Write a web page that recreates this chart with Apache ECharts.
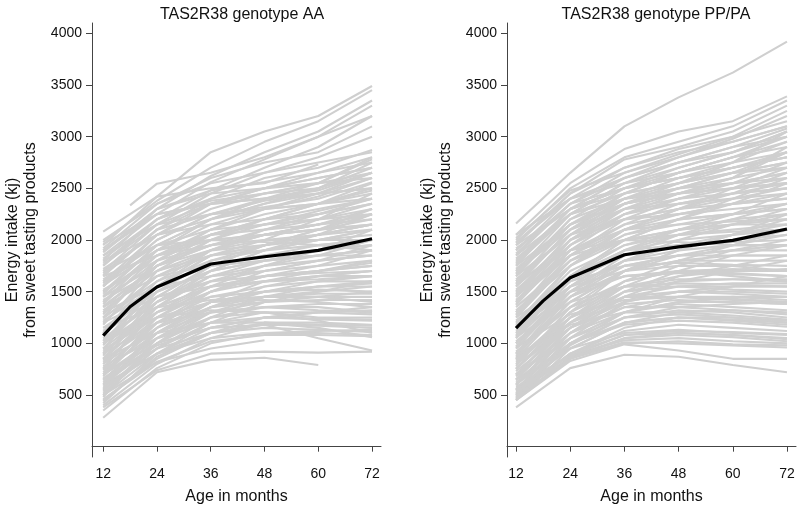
<!DOCTYPE html>
<html><head><meta charset="utf-8">
<script src="https://cdn.jsdelivr.net/npm/echarts@6/dist/echarts.min.js"></script>
<style>html,body{margin:0;padding:0;background:#fff}#c{width:807px;height:510px}</style>
</head><body><div id="c"></div>
<script>
// ---- data ----
const AGES = [12, 24, 36, 48, 60, 72];
const MEAN_AGES = [12, 18, 24, 36, 48, 60, 72];
const MEAN_AA = [1074, 1354, 1545, 1768, 1838, 1899, 2012];
const MEAN_PP = [1146, 1411, 1634, 1857, 1934, 1997, 2107];
const X_TICKS = [12, 24, 36, 48, 60, 72];
const Y_TICKS = [500, 1000, 1500, 2000, 2500, 3000, 3500, 4000];
const TITLES = ["TAS2R38 genotype AA", "TAS2R38 genotype PP/PA"];
const Y_NAME = "Energy intake (kj)\nfrom sweet tasting products";
const X_NAME = "Age in months";

const LATE_AGES_AA = [18, 24, 36, 48, 60, 72];
const LATE_AA = [2335, 2545, 2650, 2800, 3000, 3200];

const LINES_AA = [
  [2080, 2420, 2850, 3050, 3200, 3490],
  [1980, 2380, 2700, 2950, 3150, 3450],
  [1900, 2300, 2620, 2850, 3050, 3350],
  [1850, 2250, 2560, 2780, 3000, 3300],
  [1780, 2200, 2480, 2700, 2900, 3200],
  [2000, 2350, 2600, 2750, 2850, 3100],
  [1700, 2150, 2450, 2650, 2800, 3000],
  [1950, 2420, 2500, 2550, 2730, null],
  [1650, 2100, 2400, 2600, 2700, 2870],
  [1800, 2300, 2480, 2560, 2650, 2800],
  [1600, 2050, 2300, 2450, 2550, 2780],
  [1750, 2200, 2380, 2450, 2500, 2750],
  [1500, 1950, 2200, 2350, 2500, 2700],
  [1900, 2250, 2350, 2400, 2480, 2650],
  [1450, 1900, 2150, 2300, 2420, 2600],
  [1680, 2100, 2250, 2320, 2400, 2560],
  [1550, 2000, 2250, 2380, 2450, 2500],
  [1400, 1800, 2050, 2200, 2350, 2480],
  [1850, 2150, 2250, 2300, 2350, 2450],
  [1300, 1750, 2000, 2150, 2280, 2400],
  [1350, 1750, 1950, 2100, 2200, 2350],
  [1500, 1850, 2000, 2050, 2150, 2300],
  [1200, 1650, 1900, 2050, 2150, 2250],
  [1600, 1900, 2000, 2050, 2100, 2200],
  [1100, 1550, 1850, 1950, 2050, 2150],
  [1250, 1600, 1800, 1900, 2000, 2100],
  [1450, 1750, 1900, 1950, 2000, 2050],
  [1000, 1450, 1750, 1850, 1950, 2000],
  [1150, 1500, 1700, 1800, 1900, 1950],
  [1700, 1950, 2000, 1980, 1950, 1900],
  [900, 1350, 1650, 1800, 1850, 1900],
  [1050, 1400, 1600, 1700, 1800, 1850],
  [1300, 1550, 1650, 1700, 1750, 1800],
  [850, 1300, 1550, 1650, 1700, 1750],
  [950, 1350, 1550, 1600, 1650, 1700],
  [1200, 1450, 1550, 1600, 1620, 1650],
  [750, 1200, 1450, 1550, 1600, 1600],
  [1000, 1300, 1450, 1500, 1550, 1550],
  [650, 1100, 1400, 1500, 1520, 1500],
  [1150, 1350, 1420, 1450, 1450, 1450],
  [800, 1150, 1350, 1400, 1420, 1420],
  [600, 1000, 1250, 1350, 1380, 1380],
  [900, 1200, 1300, 1350, 1320, 1300],
  [550, 950, 1200, 1300, 1300, 1280],
  [700, 1050, 1250, 1300, 1250, 1250],
  [500, 900, 1150, 1250, 1230, 1220],
  [850, 1100, 1200, 1200, 1180, 1170],
  [450, 850, 1100, 1180, 1170, 1150],
  [650, 950, 1100, 1150, 1130, 1110],
  [400, 800, 1050, 1100, 1100, 1080],
  [1050, 1250, 1320, 1300, 1220, 1100],
  [600, 900, 1050, 1200, 1150, 1060],
  [380, 740, 900, 920, 910, 920],
  [280, 720, 840, 860, 790, null],
  [500, 820, 950, 1030, null, null],
  [700, 1000, 1150, 1180, 1050, 930],
  [600, 1100, 1400, 1600, 1700, 1800],
  [500, 1000, 1350, 1550, 1650, 1700],
  [800, 1300, 1600, 1750, 1850, 2000],
  [700, 1250, 1550, 1750, 1900, 2100],
  [950, 1500, 1800, 1950, 2100, 2300],
  [1100, 1700, 2000, 2200, 2350, 2550],
  [1250, 1800, 2100, 2300, 2450, 2650],
  [1400, 1900, 2200, 2400, 2550, 2800],
  [1550, 2050, 2350, 2500, 2650, 2750],
  [1020, 1550, 1850, 2000, 2200, 2450],
  [850, 1400, 1700, 1900, 2000, 2100],
  [1800, 2050, 2150, 2200, 2250, 2350],
  [1650, 1850, 1950, 2000, 2000, 2000],
  [1350, 1650, 1750, 1800, 1850, 1850],
  [420, 900, 1200, 1400, 1500, 1600],
  [480, 1050, 1350, 1500, 1600, 1650],
  [520, 950, 1250, 1450, 1550, 1580],
  [560, 1150, 1500, 1650, 1750, 1900],
  [620, 1050, 1300, 1450, 1480, 1480],
  [680, 1200, 1500, 1700, 1800, 1950],
  [720, 1150, 1400, 1500, 1550, 1600],
  [760, 1350, 1700, 1900, 2050, 2250],
  [820, 1250, 1500, 1650, 1700, 1750],
  [880, 1450, 1750, 1950, 2100, 2250],
  [920, 1300, 1500, 1600, 1650, 1650],
  [980, 1550, 1900, 2100, 2250, 2400],
  [1030, 1400, 1650, 1750, 1800, 1850],
  [1080, 1600, 1900, 2050, 2150, 2250],
  [1120, 1500, 1700, 1800, 1850, 1900],
  [1180, 1750, 2050, 2200, 2300, 2400],
  [1220, 1550, 1750, 1850, 1900, 1950],
  [1280, 1800, 2050, 2150, 2250, 2350],
  [1320, 1700, 1900, 2000, 2050, 2100],
  [1380, 1850, 2100, 2250, 2350, 2500],
  [1420, 1700, 1850, 1900, 1950, 2000],
  [1480, 1950, 2200, 2350, 2450, 2600],
  [1520, 1800, 1950, 2050, 2100, 2150],
  [1580, 2000, 2250, 2400, 2500, 2650],
  [1620, 1950, 2100, 2150, 2200, 2250],
  [1660, 2100, 2350, 2500, 2600, 2700],
  [1720, 2050, 2200, 2300, 2350, 2400],
  [1760, 2150, 2350, 2450, 2550, 2650],
  [1820, 2200, 2400, 2500, 2600, 2700],
  [1880, 2300, 2450, 2500, 2550, 2600],
  [1920, 2350, 2550, 2650, 2750, 2850],
  [1960, 2250, 2350, 2400, 2450, 2500],
  [440, 870, 1100, 1250, 1300, 1350],
  [540, 1000, 1300, 1400, 1450, 1500],
  [640, 1100, 1350, 1450, 1500, 1550],
  [740, 1100, 1300, 1350, 1350, 1300],
  [840, 1200, 1400, 1450, 1450, 1400],
  [940, 1250, 1400, 1420, 1400, 1350],
  [1000, 1350, 1550, 1650, 1700, 1780],
  [1100, 1450, 1600, 1650, 1680, 1700],
  [580, 900, 1100, 1200, 1200, 1180],
  [660, 980, 1150, 1250, 1300, 1320],
  [780, 1050, 1200, 1250, 1240, 1230],
  [350, 760, 1000, 1100, 1120, 1130],
  [460, 820, 1020, 1080, 1080, 1070],
  [1240, 1650, 1850, 1950, 2050, 2150],
  [1460, 1850, 2050, 2150, 2200, 2300],
  [1560, 1900, 2050, 2100, 2150, 2200],
  [900, 1400, 1750, 1950, 2050, 2150],
  [1360, 1750, 1950, 2050, 2100, 2150]
];

const LINES_PP = [
  [2160, 2650, 3100, 3380, 3620, 3920],
  [2050, 2550, 2880, 3050, 3150, 3390],
  [2000, 2500, 2800, 2950, 3100, 3350],
  [1950, 2450, 2780, 2900, 3050, 3300],
  [1900, 2400, 2700, 2880, 3000, 3250],
  [2020, 2480, 2650, 2800, 2980, 3200],
  [1850, 2350, 2650, 2830, 3000, 3150],
  [1800, 2300, 2600, 2800, 2950, 3100],
  [1980, 2400, 2600, 2750, 2850, 3050],
  [1700, 2250, 2550, 2750, 2900, 3000],
  [1750, 2300, 2500, 2650, 2800, 2950],
  [1600, 2150, 2450, 2650, 2800, 2900],
  [1900, 2350, 2500, 2600, 2700, 2850],
  [1550, 2100, 2400, 2550, 2700, 2800],
  [1500, 2050, 2350, 2500, 2650, 2750],
  [1650, 2200, 2400, 2500, 2600, 2700],
  [1450, 2000, 2300, 2450, 2550, 2650],
  [1850, 2250, 2400, 2450, 2500, 2600],
  [1400, 1950, 2250, 2400, 2500, 2550],
  [1300, 1850, 2150, 2350, 2450, 2500],
  [1700, 2100, 2300, 2350, 2400, 2450],
  [1250, 1800, 2100, 2250, 2350, 2400],
  [1550, 2000, 2200, 2250, 2300, 2350],
  [1200, 1750, 2050, 2200, 2250, 2300],
  [1100, 1650, 1950, 2100, 2200, 2250],
  [1450, 1900, 2100, 2150, 2180, 2200],
  [1000, 1550, 1900, 2050, 2100, 2150],
  [1350, 1800, 2000, 2050, 2080, 2100],
  [950, 1500, 1800, 1950, 2000, 2050],
  [1150, 1650, 1900, 1950, 1980, 2000],
  [1600, 1900, 2000, 1980, 1950, 1950],
  [900, 1450, 1750, 1850, 1900, 1900],
  [1050, 1550, 1800, 1850, 1850, 1850],
  [850, 1400, 1700, 1800, 1800, 1800],
  [1250, 1600, 1750, 1780, 1760, 1750],
  [800, 1300, 1600, 1700, 1700, 1700],
  [1000, 1450, 1650, 1680, 1670, 1650],
  [750, 1250, 1550, 1620, 1620, 1600],
  [700, 1200, 1500, 1550, 1550, 1550],
  [950, 1350, 1550, 1550, 1520, 1500],
  [650, 1150, 1450, 1500, 1480, 1450],
  [850, 1250, 1450, 1450, 1420, 1400],
  [600, 1100, 1380, 1420, 1400, 1380],
  [550, 1050, 1300, 1380, 1350, 1320],
  [800, 1150, 1350, 1350, 1320, 1280],
  [500, 1000, 1250, 1320, 1300, 1250],
  [700, 1050, 1250, 1280, 1250, 1220],
  [450, 950, 1200, 1250, 1230, 1200],
  [600, 1000, 1180, 1220, 1200, 1160],
  [500, 900, 1120, 1180, 1150, 1120],
  [650, 950, 1100, 1130, 1100, 1080],
  [460, 870, 1050, 1100, 1080, 1050],
  [550, 880, 1030, 1050, 1020, 1000],
  [480, 850, 1000, 1020, 990, 980],
  [520, 860, 1010, 1000, 980, 960],
  [450, 830, 990, 930, 850, 850],
  [380, 760, 890, 870, 790, 720],
  [1050, 1650, 2000, 2200, 2400, 2600],
  [1150, 1750, 2100, 2300, 2500, 2700],
  [1300, 1900, 2250, 2450, 2600, 2850],
  [900, 1500, 1850, 2050, 2200, 2350],
  [750, 1300, 1700, 1900, 2050, 2200],
  [650, 1200, 1550, 1750, 1900, 2000],
  [550, 1100, 1450, 1650, 1750, 1850],
  [1400, 2000, 2350, 2550, 2750, 3050],
  [1750, 2150, 2350, 2450, 2600, 2900],
  [1950, 2300, 2450, 2550, 2650, 2750],
  [2050, 2400, 2550, 2650, 2750, 2850],
  [1500, 1850, 2000, 2100, 2150, 2150],
  [1200, 1550, 1700, 1750, 1750, 1700],
  [1100, 1500, 1650, 1700, 1650, 1600],
  [850, 1200, 1400, 1500, 1550, 1550],
  [700, 1100, 1300, 1400, 1450, 1450],
  [1650, 2050, 2200, 2300, 2400, 2500],
  [470, 1000, 1300, 1450, 1550, 1650],
  [510, 1050, 1400, 1600, 1700, 1800],
  [560, 950, 1200, 1300, 1320, 1300],
  [600, 1150, 1500, 1700, 1850, 1950],
  [640, 1050, 1300, 1400, 1400, 1380],
  [690, 1250, 1600, 1800, 1950, 2100],
  [730, 1150, 1400, 1500, 1500, 1480],
  [780, 1350, 1700, 1900, 2050, 2250],
  [820, 1250, 1500, 1600, 1620, 1620],
  [870, 1450, 1800, 2000, 2150, 2300],
  [920, 1350, 1600, 1700, 1720, 1700],
  [970, 1550, 1900, 2100, 2250, 2450],
  [1020, 1450, 1700, 1800, 1850, 1850],
  [1070, 1650, 2000, 2200, 2350, 2550],
  [1120, 1550, 1800, 1900, 1950, 1950],
  [1170, 1750, 2100, 2300, 2450, 2650],
  [1220, 1650, 1900, 2000, 2050, 2100],
  [1270, 1850, 2200, 2400, 2550, 2750],
  [1320, 1750, 2000, 2100, 2150, 2200],
  [1370, 1950, 2300, 2500, 2650, 2850],
  [1420, 1850, 2100, 2200, 2250, 2300],
  [1470, 2050, 2400, 2600, 2750, 2950],
  [1520, 1950, 2200, 2300, 2350, 2400],
  [1570, 2100, 2450, 2650, 2800, 3000],
  [1620, 2050, 2300, 2400, 2450, 2500],
  [1670, 2200, 2500, 2700, 2850, 3050],
  [1720, 2150, 2400, 2500, 2550, 2600],
  [1770, 2250, 2550, 2700, 2850, 3000],
  [1820, 2250, 2450, 2550, 2650, 2700],
  [1870, 2350, 2600, 2750, 2900, 3080],
  [1920, 2300, 2500, 2600, 2700, 2800],
  [1970, 2450, 2700, 2850, 2950, 3100],
  [490, 900, 1150, 1250, 1250, 1200],
  [540, 980, 1250, 1350, 1380, 1400],
  [580, 880, 1080, 1100, 1080, 1040],
  [620, 1000, 1200, 1250, 1220, 1180],
  [680, 1100, 1350, 1450, 1450, 1420],
  [760, 1200, 1450, 1550, 1580, 1580],
  [840, 1300, 1550, 1650, 1700, 1720],
  [900, 1400, 1700, 1850, 1950, 2050],
  [1000, 1500, 1750, 1850, 1900, 1950],
  [1080, 1600, 1850, 1950, 2050, 2150],
  [1180, 1700, 1950, 2050, 2150, 2250],
  [1280, 1800, 2050, 2150, 2250, 2350],
  [1380, 1900, 2150, 2250, 2350, 2450],
  [1480, 2000, 2250, 2350, 2450, 2550],
  [1580, 2100, 2350, 2450, 2550, 2650],
  [1680, 2150, 2350, 2450, 2500, 2550],
  [1780, 2300, 2500, 2600, 2700, 2800],
  [880, 1180, 1300, 1300, 1270, 1230],
  [960, 1280, 1420, 1450, 1430, 1400],
  [1060, 1400, 1550, 1580, 1570, 1550],
  [1160, 1500, 1650, 1680, 1680, 1650],
  [450, 850, 1050, 1080, 1060, 1020],
  [520, 900, 1080, 1120, 1110, 1090]
];

// ---- chart ----
const FONT = "'Liberation Sans', Arial, sans-serif";
const GRAY = '#cfcfcf';
const AXIS = '#444';

function pairs(ages, vals) {
  const out = [];
  vals.forEach((v, i) => { if (v != null) out.push([ages[i], v]); });
  return out;
}
function grayLine(idx, ages, vals) {
  return {
    type: 'line', xAxisIndex: idx, yAxisIndex: idx,
    data: pairs(ages, vals), symbol: 'none', silent: true, z: 2,
    lineStyle: { color: GRAY, width: 2.1 }
  };
}
function meanLine(idx, vals) {
  return {
    type: 'line', xAxisIndex: idx, yAxisIndex: idx,
    data: pairs(MEAN_AGES, vals), symbol: 'none', silent: true, z: 5,
    lineStyle: { color: '#000', width: 3.2 }
  };
}
function xAxis(idx, min) {
  return {
    type: 'value', gridIndex: idx, min: min, max: 74,
    name: X_NAME, nameLocation: 'middle', nameGap: 32,
    nameTextStyle: { fontFamily: FONT, fontSize: 16, color: '#111' },
    axisLine: { show: true, lineStyle: { color: AXIS, width: 1 } },
    axisTick: { show: true, length: 5, customValues: X_TICKS, lineStyle: { color: AXIS } },
    axisLabel: { customValues: X_TICKS, fontFamily: FONT, fontSize: 14, color: '#111', margin: 10,
                 formatter: v => String(v) },
    splitLine: { show: false }
  };
}
function yAxis(idx) {
  return {
    type: 'value', gridIndex: idx, min: -100, max: 4100,
    name: Y_NAME, nameLocation: 'middle', nameGap: 52, nameRotate: 90,
    nameTextStyle: { fontFamily: FONT, fontSize: 16, color: '#111', lineHeight: 18 },
    axisLine: { show: true, lineStyle: { color: AXIS, width: 1 } },
    axisTick: { show: true, length: 6, customValues: Y_TICKS, lineStyle: { color: AXIS } },
    axisLabel: { customValues: Y_TICKS, fontFamily: FONT, fontSize: 14, color: '#111', margin: 10,
                 formatter: v => String(v) },
    splitLine: { show: false }
  };
}

const series = [];
LINES_AA.forEach(l => series.push(grayLine(0, AGES, l)));
series.push(grayLine(0, LATE_AGES_AA, LATE_AA));
LINES_PP.forEach(l => series.push(grayLine(1, AGES, l)));
series.push(meanLine(0, MEAN_AA));
series.push(meanLine(1, MEAN_PP));

const chart = echarts.init(document.getElementById('c'), null, { renderer: 'canvas' });
chart.setOption({
  animation: false,
  backgroundColor: '#fff',
  title: [
    { text: TITLES[0], left: 237, top: 2, textAlign: 'center',
      textStyle: { fontFamily: FONT, fontSize: 16, fontWeight: 'normal', color: '#111' } },
    { text: TITLES[1], left: 651, top: 2, textAlign: 'center',
      textStyle: { fontFamily: FONT, fontSize: 16, fontWeight: 'normal', color: '#111' } }
  ],
  grid: [
    { left: 92, right: 426, top: 23, bottom: 49 },
    { left: 507, right: 11, top: 23, bottom: 49 }
  ],
  xAxis: [xAxis(0, 9.5), xAxis(1, 10)],
  yAxis: [yAxis(0), yAxis(1)],
  series: series
});
</script></body></html>
